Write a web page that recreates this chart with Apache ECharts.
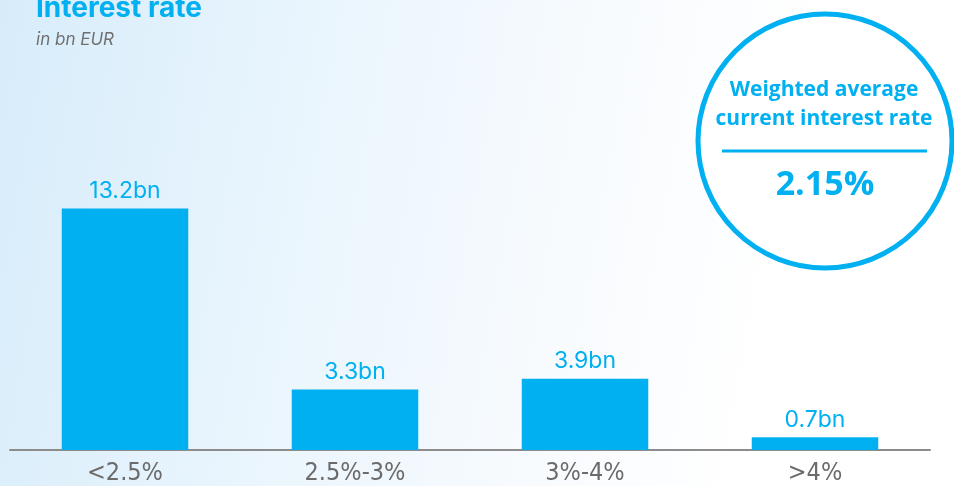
<!DOCTYPE html>
<html><head><meta charset="utf-8">
<script src="https://cdn.jsdelivr.net/npm/echarts@6/dist/echarts.min.js"></script>
<style>
html,body{margin:0;padding:0;}
body{width:954px;height:486px;background:linear-gradient(100deg,#d7ecfa 0%,#e9f5fd 30%,#f8fbfe 60%,#ffffff 80%);}
#c{width:954px;height:486px;}
</style></head><body>
<div id="c"></div>
<script>
const categories = ['<2.5%', '2.5%-3%', '3%-4%', '>4%'];
const values = [13.2, 3.3, 3.9, 0.7];
const titleText = 'Interest rate';
const subtitleText = 'in bn EUR';
const badgeLines = ['Weighted average', 'current interest rate'];
const badgeValue = '2.15%';

const blue = '#00b0f0';
const chart = echarts.init(document.getElementById('c'), null, {renderer: 'canvas'});
chart.setOption({
  backgroundColor: 'transparent',
  animation: false,
  title: {
    text: titleText, left: 31, top: -10,
    textStyle: {fontFamily: 'Inter', fontWeight: 'bold', fontSize: 28, color: blue},
    subtext: subtitleText, itemGap: 8,
    subtextStyle: {fontFamily: 'Inter', fontStyle: 'italic', fontSize: 17, color: '#707070'}
  },
  grid: {left: 10, right: 24, top: 84, bottom: 36},
  xAxis: {
    type: 'category', data: categories,
    axisLine: {show: true, lineStyle: {color: '#8c8c8c', width: 2}},
    axisTick: {show: false},
    axisLabel: {fontFamily: "'DejaVu Sans Condensed', 'Liberation Sans'", fontSize: 25, color: '#6b6b6b', margin: 11}
  },
  yAxis: {type: 'value', min: 0, max: 20, show: false, splitLine: {show: false}},
  series: [{
    type: 'bar', data: values, barWidth: '55%',
    itemStyle: {color: blue},
    label: {show: true, position: 'top', distance: 6,
      formatter: p => p.value + 'bn',
      fontFamily: 'Inter', fontSize: 23, color: blue}
  }],
  graphic: [
    {type: 'circle', shape: {cx: 825, cy: 141, r: 127}, style: {fill: '#ffffff', stroke: blue, lineWidth: 5}, z: 10},
    {type: 'text', x: 824, y: 90, style: {text: badgeLines[0], textAlign: 'center', textVerticalAlign: 'middle', fill: blue, font: 'bold 21px "Open Sans"'}, z: 11},
    {type: 'text', x: 824, y: 119, style: {text: badgeLines[1], textAlign: 'center', textVerticalAlign: 'middle', fill: blue, font: 'bold 21px "Open Sans"'}, z: 11},
    {type: 'line', shape: {x1: 722, y1: 151, x2: 927, y2: 151}, style: {stroke: blue, lineWidth: 3}, z: 11},
    {type: 'text', x: 825, y: 185, style: {text: badgeValue, textAlign: 'center', textVerticalAlign: 'middle', fill: blue, font: 'bold 34px "Open Sans"'}, z: 11}
  ]
});
</script>
</body></html>
